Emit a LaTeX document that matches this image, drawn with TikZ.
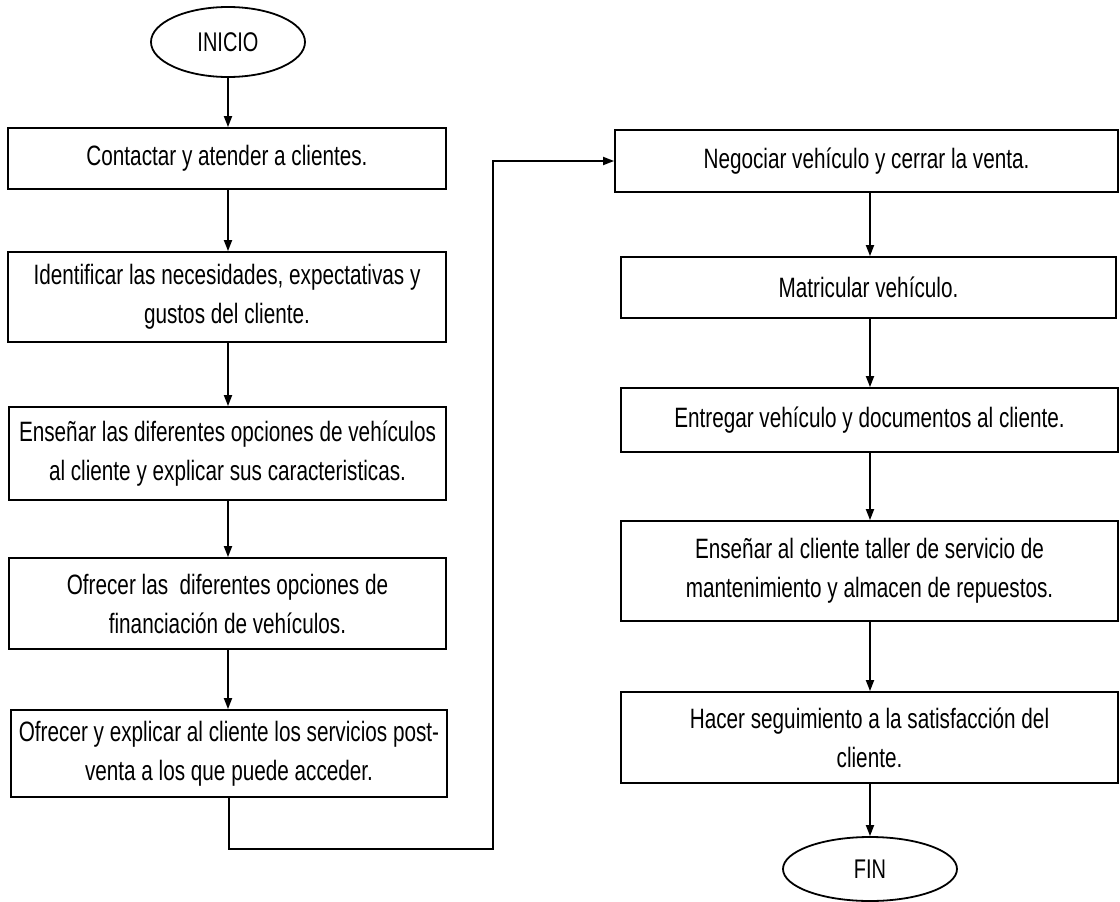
\documentclass[tikz,border=0pt]{standalone}
\usepackage{fontspec}
\setmainfont[FakeStretch=0.74]{Liberation Sans}
\usetikzlibrary{arrows.meta,shapes.geometric}
\begin{document}
\begin{tikzpicture}[x=1pt,y=-1pt,
 stepbox/.style={draw, line width=1.8pt, rectangle, inner sep=0pt, align=center, font=\fontsize{28}{39}\selectfont},
 term/.style={draw, line width=1.8pt, ellipse, inner sep=0pt, font=\fontsize{27}{30}\selectfont},
 arr/.style={line width=1.8pt, -{Triangle[length=11pt,width=8pt]}},
]
\useasboundingbox (0,0) rectangle (1120,902);
\fill[white] (0,0) rectangle (1120,902);
% left column
\node[term, minimum width=154pt, minimum height=70pt] (ini) at (228,42) {INICIO};
\node[stepbox, minimum width=438pt, minimum height=61pt] (b1) at (227,158.5) {Contactar y atender a clientes.};
\node[stepbox, minimum width=438pt, minimum height=90pt] (b2) at (227,297) {Identificar las necesidades, expectativas y\\gustos del cliente.};
\node[stepbox, minimum width=437pt, minimum height=93pt] (b3) at (227.5,453.5) {Enseñar las diferentes opciones de vehículos\\al cliente y explicar sus caracteristicas.};
\node[stepbox, minimum width=437pt, minimum height=91pt] (b4) at (227.5,603.5) {Ofrecer las~ diferentes opciones de\\financiación de vehículos.};
\node[stepbox, minimum width=436pt, minimum height=87pt] (b5) at (229,753.5) {Ofrecer y explicar al cliente los servicios post-\\venta a los que puede acceder.};
% right column
\node[stepbox, minimum width=503pt, minimum height=62pt] (r1) at (866.5,161) {Negociar vehículo y cerrar la venta.};
\node[stepbox, minimum width=495pt, minimum height=61pt] (r2) at (868.5,287.5) {Matricular vehículo.};
\node[stepbox, minimum width=497pt, minimum height=64pt] (r3) at (869.5,420) {Entregar vehículo y documentos al cliente.};
\node[stepbox, minimum width=497pt, minimum height=100pt] (r4) at (869.5,571) {Enseñar al cliente taller de servicio de\\mantenimiento y almacen de repuestos.};
\node[stepbox, minimum width=497pt, minimum height=91pt] (r5) at (869.5,737.5) {Hacer seguimiento a la satisfacción del\\cliente.};
\node[term, minimum width=174pt, minimum height=64pt] (fin) at (870,869) {FIN};
% connectors
\draw[arr] (ini.south) -- (ini.south |- b1.north);
\draw[arr] (b1.south -| ini.south) -- (ini.south |- b2.north);
\draw[arr] (b2.south -| ini.south) -- (ini.south |- b3.north);
\draw[arr] (b3.south -| ini.south) -- (ini.south |- b4.north);
\draw[arr] (b4.south -| ini.south) -- (ini.south |- b5.north);
\coordinate (turn) at (493,849);
\draw[arr] (b5.south) |- (turn) |- (r1.west);
\draw[arr] (r1.south -| fin.north) -- (fin.north |- r2.north);
\draw[arr] (r2.south -| fin.north) -- (fin.north |- r3.north);
\draw[arr] (r3.south -| fin.north) -- (fin.north |- r4.north);
\draw[arr] (r4.south -| fin.north) -- (fin.north |- r5.north);
\draw[arr] (r5.south -| fin.north) -- (fin.north);
\end{tikzpicture}
\end{document}
